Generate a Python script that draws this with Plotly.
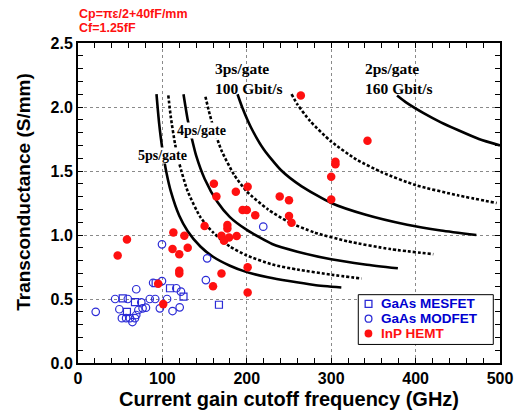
import plotly.graph_objects as go

# ---------------- data ----------------
# GaAs MESFET (open squares)
mesfet_ft = [53, 58, 67.5, 92, 109, 125, 167]
mesfet_gm = [0.505, 0.40, 0.475, 0.623, 0.584, 0.518, 0.455]

# GaAs MODFET (open circles)
modfet_ft = [21, 44, 49, 52, 57, 59, 61.5, 64.5, 67.5, 69, 69, 71.5, 75, 76.5, 80.5,
             85, 89, 91.5, 97, 99.5, 99.5, 105.5, 112, 116.5, 120.5, 122, 151.5, 153, 219.5]
modfet_gm = [0.40, 0.50, 0.42, 0.35, 0.35, 0.50, 0.35, 0.32, 0.35, 0.375, 0.576, 0.414, 0.474, 0.427, 0.432,
             0.50, 0.627, 0.50, 0.427, 0.64, 0.927, 0.50, 0.406, 0.584, 0.435, 0.557, 0.648, 0.818, 1.065]

# InP HEMT (filled circles)
hemt_ft = [47, 58, 95, 101, 112, 113, 120, 120, 120, 126, 130, 150, 160, 161, 164, 170, 170, 173,
           177, 177, 179, 187, 188, 195, 200, 201, 201, 201, 210, 239, 250, 250, 253, 264,
           300, 300, 305, 305, 343]
hemt_gm = [0.84, 0.965, 0.62, 0.46, 0.89, 1.02, 0.85, 0.72, 0.70, 0.995, 0.90, 1.07, 0.60, 1.40, 1.30,
           0.995, 0.70, 0.955, 1.05, 1.078, 0.98, 1.338, 0.992, 1.195, 1.195, 1.377, 0.748, 0.55, 1.155,
           1.30, 1.272, 1.148, 1.096, 2.09, 1.455, 1.278, 1.573, 1.553, 1.736]

# constant gate-delay curves
c5_ft = [93, 96, 100, 105, 110, 120, 130, 145, 160, 180, 200, 225, 250, 280, 312]
c5_gm = [2.10, 1.88, 1.67, 1.48, 1.34, 1.15, 1.03, 0.91, 0.83, 0.76, 0.71, 0.67, 0.64, 0.61, 0.59]
c45_ft = [107, 110, 115, 120, 130, 145, 160, 180, 200, 230, 260, 300, 336]
c45_gm = [2.09, 1.92, 1.71, 1.56, 1.34, 1.14, 1.02, 0.91, 0.84, 0.77, 0.73, 0.69, 0.66]
c4_ft = [125, 130, 135, 140, 150, 165, 180, 200, 230, 260, 300, 340, 379]
c4_gm = [2.10, 1.90, 1.75, 1.62, 1.44, 1.26, 1.14, 1.04, 0.93, 0.87, 0.81, 0.77, 0.74]
c35_ft = [151, 155, 160, 170, 185, 200, 225, 250, 280, 320, 370, 421]
c35_gm = [2.08, 1.97, 1.85, 1.66, 1.47, 1.34, 1.20, 1.10, 1.02, 0.95, 0.89, 0.85]
c3_ft = [189, 195, 205, 220, 240, 265, 300, 340, 390, 430, 472]
c3_gm = [2.10, 1.99, 1.84, 1.67, 1.51, 1.38, 1.25, 1.16, 1.08, 1.035, 1.00]
c25_ft = [253, 260, 275, 300, 330, 360, 400, 450, 496]
c25_gm = [2.10, 2.02, 1.89, 1.73, 1.59, 1.49, 1.39, 1.31, 1.25]
c2_ft = [378, 390, 410, 430, 450, 475, 500]
c2_gm = [2.09, 2.03, 1.95, 1.88, 1.82, 1.75, 1.70]

legend_labels = ["GaAs MESFET", "GaAs MODFET", "InP HEMT"]
x_ticks = [0, 100, 200, 300, 400, 500]
y_ticks = [0.0, 0.5, 1.0, 1.5, 2.0, 2.5]

BLUE = "#2b2bd6"
RED = "#ff1010"
SERIF = "Liberation Serif, Times New Roman, serif"
SANS = "Liberation Sans, Arial, sans-serif"

fig = go.Figure()

curves = [
    (c5_ft, c5_gm, "solid"), (c45_ft, c45_gm, "3px,2px"),
    (c4_ft, c4_gm, "solid"), (c35_ft, c35_gm, "3px,2px"),
    (c3_ft, c3_gm, "solid"), (c25_ft, c25_gm, "3px,2px"),
    (c2_ft, c2_gm, "solid"),
]
for fx, gy, dash in curves:
    fig.add_trace(go.Scatter(x=fx, y=gy, mode="lines", showlegend=False, hoverinfo="skip",
                             line=dict(color="black", width=2.6, dash=dash, shape="spline", smoothing=0.6)))

fig.add_trace(go.Scatter(x=mesfet_ft, y=mesfet_gm, mode="markers", name=legend_labels[0], showlegend=False,
                         marker=dict(symbol="square-open", size=7, color=BLUE, line=dict(width=1.2, color=BLUE))))
fig.add_trace(go.Scatter(x=modfet_ft, y=modfet_gm, mode="markers", name=legend_labels[1], showlegend=False,
                         marker=dict(symbol="circle-open", size=7.5, color=BLUE, line=dict(width=1.2, color=BLUE))))
fig.add_trace(go.Scatter(x=hemt_ft, y=hemt_gm, mode="markers", name=legend_labels[2], showlegend=False,
                         marker=dict(symbol="circle", size=8.5, color=RED, line=dict(width=0))))

# curve labels
fig.add_annotation(x=100, y=1.625, text="<b>5ps/gate</b>", showarrow=False, bgcolor="white", borderpad=0,
                   font=dict(family=SERIF, size=14, color="black"))
fig.add_annotation(x=146.5, y=1.82, text="<b>4ps/gate</b>", showarrow=False, bgcolor="white", borderpad=0,
                   font=dict(family=SERIF, size=14, color="black"))
fig.add_annotation(x=160, y=2.22, text="<b>3ps/gate<br>100 Gbit/s</b>", showarrow=False, xanchor="left",
                   align="left", font=dict(family=SERIF, size=15.5, color="black"))
fig.add_annotation(x=338, y=2.225, text="<b>2ps/gate<br>160 Gbit/s</b>", showarrow=False, xanchor="left",
                   align="left", font=dict(family=SERIF, size=15.5, color="black"))

# top-left parameter text
fig.add_annotation(xref="paper", yref="paper", x=0, y=1.091, xanchor="left", yanchor="middle",
                   text="<b>Cp=πε/2+40fF/mm</b>", showarrow=False, borderpad=0,
                   font=dict(family=SANS, size=12.5, color=RED))
fig.add_annotation(xref="paper", yref="paper", x=0, y=1.046, xanchor="left", yanchor="middle",
                   text="<b>Cf=1.25fF</b>", showarrow=False, borderpad=0,
                   font=dict(family=SANS, size=12.5, color=RED))

# y axis title (placed to match the original, slightly above plot centre)
fig.add_annotation(xref="paper", yref="paper", x=-0.128, y=0.535, xanchor="center", yanchor="middle",
                   text="<b>Transconductance (S/mm)</b>", textangle=-90, showarrow=False, borderpad=0,
                   font=dict(family=SANS, size=19, color="black"))

# legend box (drawn to match original compact layout)
fig.add_shape(type="rect", xref="paper", yref="paper", x0=0.6642, x1=0.9841, y0=0.058, y1=0.2135,
              line=dict(color="black", width=1), fillcolor="white", layer="above")
leg_y = [0.1850, 0.1385, 0.0920]
fig.add_shape(type="rect", xref="paper", yref="paper", x0=0.6805, x1=0.6965, y0=leg_y[0] - 0.0109, y1=leg_y[0] + 0.0109,
              line=dict(color=BLUE, width=1.3), layer="above")
fig.add_shape(type="circle", xref="paper", yref="paper", x0=0.6805, x1=0.6965, y0=leg_y[1] - 0.0109, y1=leg_y[1] + 0.0109,
              line=dict(color=BLUE, width=1.3), layer="above")
fig.add_shape(type="circle", xref="paper", yref="paper", x0=0.6790, x1=0.6975, y0=leg_y[2] - 0.0125, y1=leg_y[2] + 0.0125,
              line=dict(color=RED, width=0), fillcolor=RED, layer="above")
leg_c = ["#0000d0", "#0000d0", "#ff1010"]
for lab, yy, cc in zip(legend_labels, leg_y, leg_c):
    fig.add_annotation(xref="paper", yref="paper", x=0.7156, y=yy, xanchor="left", yanchor="middle",
                       text="<b>" + lab + "</b>", showarrow=False, borderpad=0,
                       font=dict(family=SANS, size=13.5, color=cc))

axis_common = dict(showline=True, linewidth=2, linecolor="black", mirror="allticks",
                   ticks="inside", ticklen=5, tickwidth=1.2, tickcolor="black",
                   showgrid=True, gridcolor="#8a8a8a", gridwidth=1, griddash="dot",
                   zeroline=False, automargin=False,
                   tickfont=dict(family=SANS, size=16, color="black", weight="bold"))

fig.update_xaxes(range=[0, 500], tickvals=x_ticks, ticktext=[str(v) for v in x_ticks],
                 minor=dict(dtick=20, ticks="inside", ticklen=5, tickwidth=1.2, tickcolor="black", showgrid=False),
                 title=dict(text="<b>Current gain cutoff frequency (GHz)</b>", standoff=6,
                            font=dict(family=SANS, size=20, color="black")),
                 **axis_common)
fig.update_yaxes(range=[0, 2.5], tickvals=y_ticks, ticktext=["%.1f" % v for v in y_ticks],
                 minor=dict(dtick=0.1, ticks="inside", ticklen=5, tickwidth=1.2, tickcolor="black", showgrid=False),
                 **axis_common)

# page body adds an 8px margin, so the figure is 8px smaller than the window
fig.update_layout(width=519, height=406, margin=dict(l=70, r=27, t=35, b=51),
                  paper_bgcolor="white", plot_bgcolor="white", showlegend=False)

fig.write_html("out.html")
